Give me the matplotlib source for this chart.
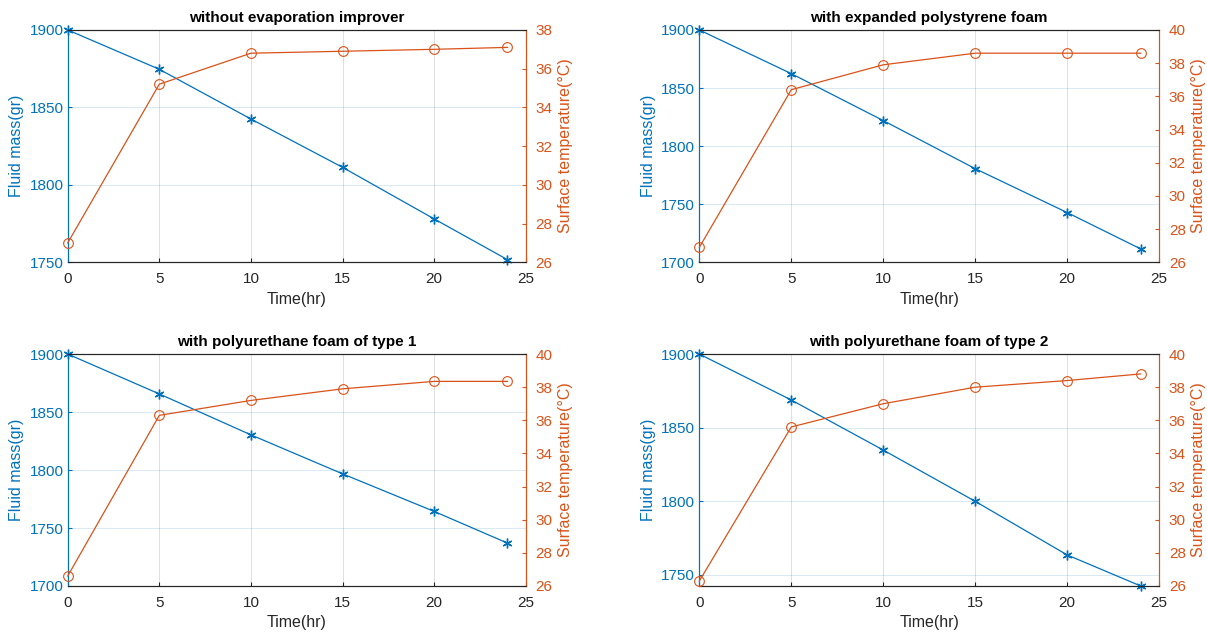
import matplotlib
matplotlib.use('Agg')
import matplotlib.pyplot as plt
import numpy as np

plt.rcParams['font.family'] = ['Liberation Sans', 'DejaVu Sans']

# Data
hours = [0, 5, 10, 15, 20, 24]

titles = ['without evaporation improver',
          'with expanded polystyrene foam',
          'with polyurethane foam of type 1',
          'with polyurethane foam of type 2']

mass_1 = [1900, 1874.6, 1842.5, 1811.3, 1778.0, 1751.7]
mass_2 = [1900, 1862.4, 1822.0, 1780.6, 1742.8, 1711.5]
mass_3 = [1900, 1865.6, 1830.3, 1796.7, 1764.3, 1737.0]
mass_4 = [1900, 1868.8, 1834.8, 1800.0, 1763.6, 1742.5]

temp_1 = [27.0, 35.2, 36.8, 36.9, 37.0, 37.1]
temp_2 = [26.9, 36.4, 37.9, 38.6, 38.6, 38.6]
temp_3 = [26.6, 36.3, 37.2, 37.9, 38.35, 38.35]
temp_4 = [26.3, 35.6, 37.0, 38.0, 38.4, 38.8]

mass_lims = [(1750, 1900), (1700, 1900), (1700, 1900), (1742.5, 1900)]
mass_ticks = [[1750, 1800, 1850, 1900],
              [1700, 1750, 1800, 1850, 1900],
              [1700, 1750, 1800, 1850, 1900],
              [1750, 1800, 1850, 1900]]
temp_lims = [(26, 38), (26, 40), (26, 40), (26, 40)]

masses = [mass_1, mass_2, mass_3, mass_4]
temps = [temp_1, temp_2, temp_3, temp_4]

BLUE = '#0072BD'
ORANGE = '#D95319'
DARK = '#262626'

fig = plt.figure(figsize=(12.07, 6.32), dpi=100)

# axes boxes in figure fractions [left, bottom, width, height]
boxes = [[0.0561, 0.585, 0.3795, 0.3676],
         [0.5794, 0.585, 0.3809, 0.3676],
         [0.0561, 0.0728, 0.3795, 0.3670],
         [0.5794, 0.0728, 0.3809, 0.3670]]

# MATLAB-like asterisk marker
star = (6, 2, 0)

for i in range(4):
    ax = fig.add_axes(boxes[i])
    ax2 = ax.twinx()

    ax.plot(hours, masses[i], color=BLUE, lw=0.9, marker=star, ms=7,
            markeredgewidth=1.0, clip_on=False, zorder=3)
    ax2.plot(hours, temps[i], color=ORANGE, lw=0.9, marker='o', ms=7,
             mfc='none', markeredgewidth=0.8, clip_on=False, zorder=3)

    ax.set_xlim(0, 25)
    ax.set_xticks([0, 5, 10, 15, 20, 25])
    ax.set_ylim(*mass_lims[i])
    ax.set_yticks(mass_ticks[i])
    lo, hi = temp_lims[i]
    ax2.set_ylim(lo, hi)
    ax2.set_yticks(np.arange(lo, hi + 1, 2))

    # grid: vertical grey, horizontal light blue
    ax.xaxis.grid(True, color='#000000', alpha=0.13, lw=0.7)
    ax.yaxis.grid(True, color=BLUE, alpha=0.15, lw=0.7)
    ax.set_axisbelow(True)

    ax.tick_params(axis='x', direction='in', length=3, colors=DARK,
                   labelsize=11, top=False, pad=7)
    ax.tick_params(axis='y', direction='in', length=3, colors=BLUE,
                   labelsize=11, pad=3)
    ax2.tick_params(axis='y', direction='in', length=3, colors=ORANGE,
                    labelsize=11, pad=7)

    for a in (ax, ax2):
        a.spines['top'].set_color(DARK)
        a.spines['bottom'].set_color(DARK)
        a.spines['left'].set_color(BLUE)
        a.spines['right'].set_color(ORANGE)
        for s in a.spines.values():
            s.set_linewidth(0.8)

    ax.set_xlabel('Time(hr)', fontsize=11.5, color=DARK, labelpad=4)
    ax.set_ylabel('Fluid mass(gr)', fontsize=11.5, color=BLUE, labelpad=4)
    ax2.set_ylabel('Surface temperature(\u00b0C)', fontsize=11.5, color=ORANGE,
                   labelpad=4)
    ax.set_title(titles[i], fontsize=11, fontweight='bold', color='#000000',
                 pad=6)

fig.savefig('out.png', dpi=100)
